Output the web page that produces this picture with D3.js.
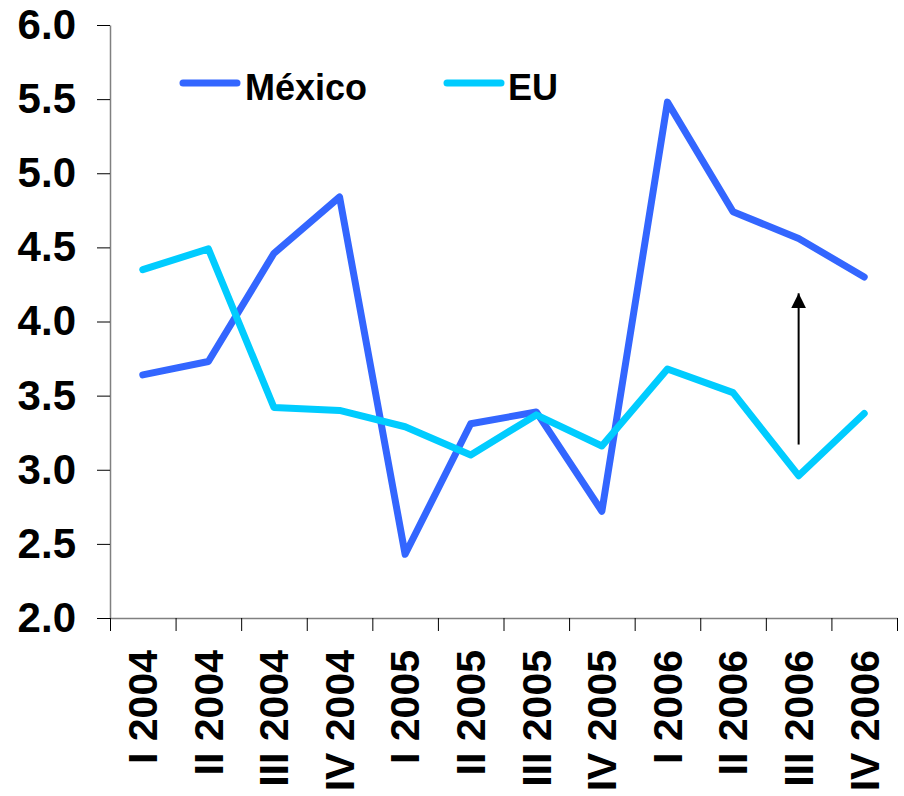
<!DOCTYPE html>
<html>
<head>
<meta charset="utf-8">
<script src="https://cdn.jsdelivr.net/npm/d3@7/dist/d3.min.js"></script>
<style>
  html, body { margin: 0; padding: 0; background: #fff; }
  svg { display: block; font-family: "Liberation Sans", Arial, sans-serif; font-weight: bold; }
</style>
</head>
<body>
<svg id="chart" width="904" height="796"></svg>
<script>
const categories = ["I 2004", "II 2004", "III 2004", "IV 2004",
                    "I 2005", "II 2005", "III 2005", "IV 2005",
                    "I 2006", "II 2006", "III 2006", "IV 2006"];
const mexico = [3.64, 3.73, 4.46, 4.84, 2.43, 3.31, 3.39, 2.72, 5.48, 4.74, 4.56, 4.30];
const eu     = [4.35, 4.49, 3.42, 3.40, 3.29, 3.10, 3.37, 3.16, 3.68, 3.52, 2.96, 3.38];
const yTicks = [2.0, 2.5, 3.0, 3.5, 4.0, 4.5, 5.0, 5.5, 6.0];
const seriesNames = ["México", "EU"];
const arrowAnnotation = { category: "III 2006", from: 3.17, to: 4.19 };

(function () {
const svg = d3.select("#chart");
const mLeft = 110, mRight = 897, mTop = 25, mBottom = 618;

const x = d3.scaleBand().domain(categories).range([mLeft, mRight]).padding(0);
const xb = d3.scaleLinear().domain([0, categories.length]).range([mLeft, mRight]);
const y = d3.scaleLinear().domain([2, 6]).range([mBottom, mTop]);

// Y axis
const yAxis = svg.append("g").attr("transform", `translate(${mLeft},0)`)
  .call(d3.axisLeft(y).tickValues(yTicks).tickSizeInner(13).tickSizeOuter(0).tickFormat(d3.format(".1f")).tickPadding(21));
yAxis.select(".domain").attr("stroke", "#808080").attr("stroke-width", 1.5);
yAxis.selectAll(".tick line").attr("stroke", "#000").attr("stroke-width", 1);
yAxis.selectAll(".tick text").attr("font-size", 42).attr("font-weight", "bold")
  .attr("font-family", "Liberation Sans, Arial, sans-serif").attr("fill", "#000");

// X axis (boundary ticks)
const xAxis = svg.append("g").attr("transform", `translate(0,${mBottom})`)
  .call(d3.axisBottom(xb).tickValues(d3.range(0, categories.length + 1)).tickSizeInner(13).tickSizeOuter(0).tickFormat(""));
xAxis.select(".domain").attr("stroke", "#808080").attr("stroke-width", 1.5);
xAxis.selectAll(".tick line").attr("stroke", "#000").attr("stroke-width", 1);

// X labels
svg.append("g").selectAll("text").data(categories).join("text")
  .attr("transform", d => `translate(${x(d) + x.bandwidth() / 2},650) rotate(-90)`)
  .attr("text-anchor", "end")
  .attr("dy", "0.35em")
  .attr("font-size", 41)
  .attr("fill", "#000")
  .text(d => d);

// Lines
const line = d3.line().x((d, i) => x(categories[i]) + x.bandwidth() / 2).y(d => y(d));
const colors = ["#3366FF", "#00CCFF"];
[mexico, eu].forEach((s, k) => {
  svg.append("path").datum(s)
    .attr("d", line)
    .attr("fill", "none")
    .attr("stroke", colors[k])
    .attr("stroke-width", 7)
    .attr("stroke-linejoin", "round")
    .attr("stroke-linecap", "round");
});

// Arrow annotation
const defs = svg.append("defs");
defs.append("marker").attr("id", "arrow")
  .attr("viewBox", "0 0 10 10").attr("refX", 10).attr("refY", 5)
  .attr("markerUnits", "userSpaceOnUse")
  .attr("markerWidth", 15).attr("markerHeight", 15)
  .attr("orient", "auto")
  .append("path").attr("d", "M0,0 L10,5 L0,10 Z").attr("fill", "#000");
const ax = x(arrowAnnotation.category) + x.bandwidth() / 2;
svg.append("line")
  .attr("x1", ax).attr("x2", ax)
  .attr("y1", y(arrowAnnotation.from)).attr("y2", y(arrowAnnotation.to))
  .attr("stroke", "#000").attr("stroke-width", 2)
  .attr("marker-end", "url(#arrow)");

// Legend
const legendPos = [{ lx: 183, tx: 245 }, { lx: 447, tx: 508 }];
seriesNames.forEach((name, k) => {
  const g = svg.append("g");
  g.append("line")
    .attr("x1", legendPos[k].lx).attr("x2", legendPos[k].lx + 54)
    .attr("y1", 83).attr("y2", 83)
    .attr("stroke", colors[k]).attr("stroke-width", 7).attr("stroke-linecap", "round");
  g.append("text")
    .attr("x", legendPos[k].tx).attr("y", 100)
    .attr("font-size", 36).attr("fill", "#000")
    .text(name);
});
})();
</script>
</body>
</html>
